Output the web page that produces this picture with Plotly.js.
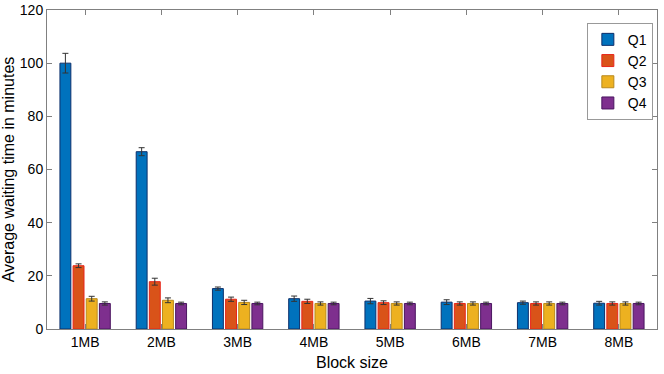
<!DOCTYPE html>
<html>
<head>
<meta charset="utf-8">
<script src="https://cdn.plot.ly/plotly-3.0.1.min.js"></script>
<style>
  html, body { margin: 0; padding: 0; background: #fff; }
  #graph1 { width: 664px; height: 374px; }
</style>
</head>
<body>
<div id="graph1"></div>
<script>
// block sizes on the x axis
let blockSizes = ['1MB', '2MB', '3MB', '4MB', '5MB', '6MB', '7MB', '8MB'];

// average waiting time (minutes) per quarter
let q1 = [100.0, 66.7, 15.2, 11.4, 10.5, 10.1, 9.9, 9.7];
let q2 = [23.8, 17.8, 11.2, 10.4, 9.9, 9.6, 9.6, 9.6];
let q3 = [11.4, 10.8, 10.0, 9.6, 9.6, 9.6, 9.6, 9.6];
let q4 = [9.6, 9.6, 9.6, 9.6, 9.6, 9.6, 9.6, 9.6];

// error bar half-widths
let q1Err = [3.7, 1.5, 0.6, 1.0, 1.0, 0.9, 0.6, 0.7];
let q2Err = [0.7, 1.3, 0.8, 0.8, 0.7, 0.6, 0.6, 0.6];
let q3Err = [0.9, 0.9, 0.8, 0.6, 0.6, 0.6, 0.6, 0.6];
let q4Err = [0.6, 0.5, 0.5, 0.5, 0.5, 0.5, 0.5, 0.5];

let seriesNames = ['Q1', 'Q2', 'Q3', 'Q4'];
let fillColors = ['#0072BD', '#D95319', '#EDB120', '#7E2F8E'];
let edgeColors = ['#0d2f6b', '#e8251a', '#b8891c', '#4a1560'];

let values = [q1, q2, q3, q4];
let errors = [q1Err, q2Err, q3Err, q4Err];

let traces = [];
for (let i = 0; i < values.length; i++) {
  traces.push({
    type: 'bar',
    name: seriesNames[i],
    x: blockSizes,
    y: values[i],
    marker: {
      color: fillColors[i],
      line: { color: edgeColors[i], width: 1 }
    },
    error_y: {
      type: 'data',
      array: errors[i],
      visible: true,
      color: '#333333',
      thickness: 1,
      width: 3
    }
  });
}

let font = '"Liberation Sans", Arial, sans-serif';

var layout = {
  width: 664,
  height: 374,
  margin: { l: 47, r: 7, t: 10, b: 45 },
  paper_bgcolor: '#ffffff',
  plot_bgcolor: '#ffffff',
  barmode: 'group',
  bargap: 0.31,
  bargroupgap: 0.17,
  font: { family: font, size: 14, color: '#000' },
  showlegend: true,
  legend: {
    x: 0.885, y: 0.96,
    xanchor: 'left', yanchor: 'top',
    bgcolor: '#fff',
    bordercolor: '#999',
    borderwidth: 1,
    font: { family: font, size: 14, color: '#000' },
    tracegroupgap: 0,
    itemwidth: 30
  },
  xaxis: {
    title: { text: 'Block size', font: { family: font, size: 16 }, standoff: 8 },
    showline: true,
    linecolor: '#808080',
    linewidth: 1,
    mirror: 'allticks',
    ticks: 'inside',
    ticklen: 5,
    tickcolor: '#808080',
    showgrid: false,
    tickfont: { family: font, size: 14 },
    range: [-0.5, 7.5]
  },
  yaxis: {
    title: { text: 'Average waiting time in minutes', font: { family: font, size: 16 }, standoff: 6 },
    range: [0, 120],
    dtick: 20,
    showline: true,
    linecolor: '#808080',
    linewidth: 1,
    mirror: 'allticks',
    ticks: 'inside',
    ticklen: 5,
    tickcolor: '#808080',
    showgrid: false,
    zeroline: false,
    tickfont: { family: font, size: 14 }
  }
};

Plotly.newPlot('graph1', traces, layout, { displayModeBar: false, staticPlot: true });
</script>
</body>
</html>
